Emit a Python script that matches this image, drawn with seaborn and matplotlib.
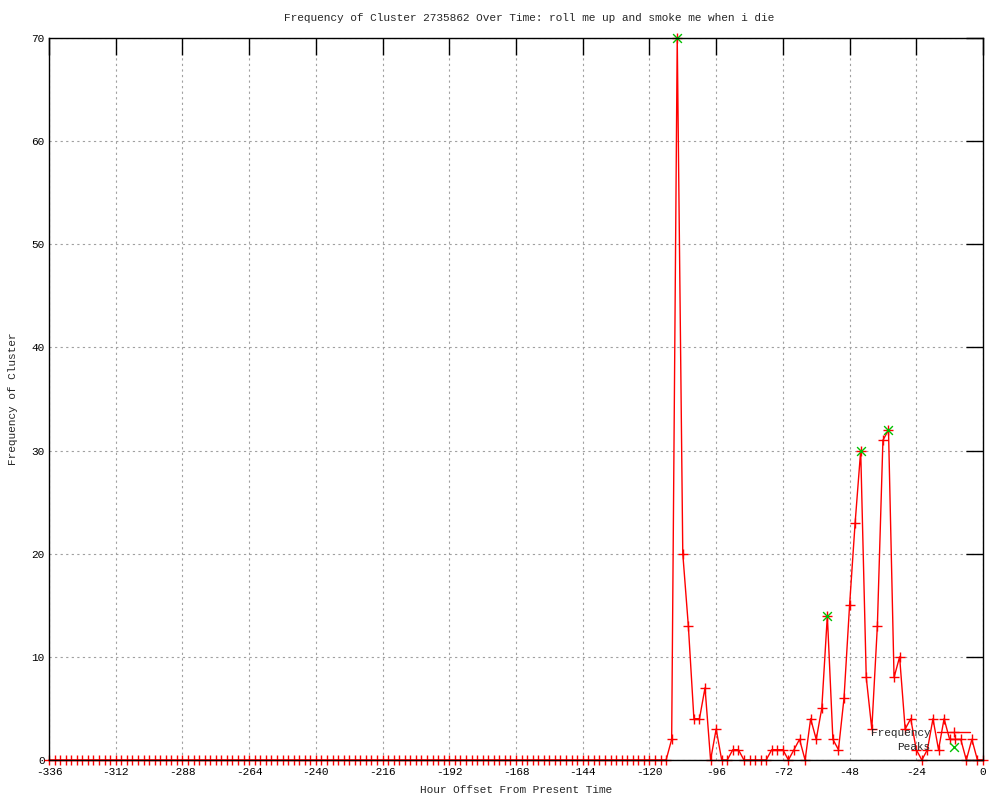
import numpy as np
import pandas as pd
import matplotlib
matplotlib.use("Agg")
import matplotlib.pyplot as plt
import seaborn as sns

# ---- data ----
hours = list(range(-336, 1, 2))
frequency = [
    # -336 .. -114 (all zero)
    0, 0, 0, 0, 0, 0, 0, 0, 0, 0, 0, 0, 0, 0, 0, 0,
    0, 0, 0, 0, 0, 0, 0, 0, 0, 0, 0, 0, 0, 0, 0, 0,
    0, 0, 0, 0, 0, 0, 0, 0, 0, 0, 0, 0, 0, 0, 0, 0,
    0, 0, 0, 0, 0, 0, 0, 0, 0, 0, 0, 0, 0, 0, 0, 0,
    0, 0, 0, 0, 0, 0, 0, 0, 0, 0, 0, 0, 0, 0, 0, 0,
    0, 0, 0, 0, 0, 0, 0, 0, 0, 0, 0, 0, 0, 0, 0, 0,
    0, 0, 0, 0, 0, 0, 0, 0, 0, 0, 0, 0, 0, 0, 0, 0,
    # -112 .. 0
    2, 70, 20, 13, 4, 4, 7, 0, 3, 0, 0, 1, 1, 0, 0, 0,
    0, 0, 1, 1, 1, 0, 1, 2, 0, 4, 2, 5, 14, 2, 1, 6,
    15, 23, 30, 8, 3, 13, 31, 32, 8, 10, 3, 4, 1, 0, 1, 4,
    1, 4, 2, 2, 2, 0, 2, 0, 0,
]
peak_hours = [-110, -56, -44, -34]
peak_values = [70, 14, 30, 32]

title = "Frequency of Cluster 2735862 Over Time: roll me up and smoke me when i die"
x_label = "Hour Offset From Present Time"
y_label = "Frequency of Cluster"
x_ticks = [-336, -312, -288, -264, -240, -216, -192, -168, -144, -120, -96, -72, -48, -24, 0]
y_ticks = [0, 10, 20, 30, 40, 50, 60, 70]

df = pd.DataFrame({"hour": hours, "freq": frequency})
peaks = pd.DataFrame({"hour": peak_hours, "freq": peak_values})

sns.set_style("white")
plt.rcParams["font.family"] = ["Liberation Mono", "DejaVu Sans Mono"]
plt.rcParams["font.size"] = 8
plt.rcParams["axes.unicode_minus"] = False

fig = plt.figure(figsize=(10, 8), dpi=100)
ax = fig.add_axes([0.049, 0.05, 0.934, 0.9025])

ax.grid(True, color="#a0a0a0", linestyle=(0, (2, 3)), linewidth=0.8)
ax.set_axisbelow(True)

sns.lineplot(data=df, x="hour", y="freq", ax=ax, color="#ff0000", linewidth=1.0,
             marker="+", markersize=7, markeredgewidth=1.0, markeredgecolor="#ff0000",
             label="Frequency", clip_on=False, zorder=3)
sns.scatterplot(data=peaks, x="hour", y="freq", ax=ax, color="#00c000", marker="x",
                s=40, linewidth=1.0, label="Peaks", clip_on=False, zorder=4)

ax.set_xlim(-336, 0)
ax.set_ylim(0, 70)
ax.set_xticks(x_ticks)
ax.set_yticks(y_ticks)
ax.tick_params(direction="in", top=True, right=True, length=12, width=1,
               colors="black", labelsize=8, pad=5)
ax.tick_params(axis="y", pad=3)
for s in ax.spines.values():
    s.set_color("black")
    s.set_linewidth(1)
    s.set_zorder(5)

ax.set_xlabel(x_label, fontsize=8, labelpad=6)
ax.set_ylabel(y_label, fontsize=8, labelpad=10)
fig.text(0.5295, 1 - 18 / 800, title, ha="center", va="center", fontsize=8)

leg = ax.legend(loc="lower right", bbox_to_anchor=(0.994, 0.0), frameon=False,
                markerfirst=False, handlelength=2.9, labelspacing=0.35,
                fontsize=8, handletextpad=0.6, borderaxespad=0.3)

fig.savefig("out.png", dpi=100)
